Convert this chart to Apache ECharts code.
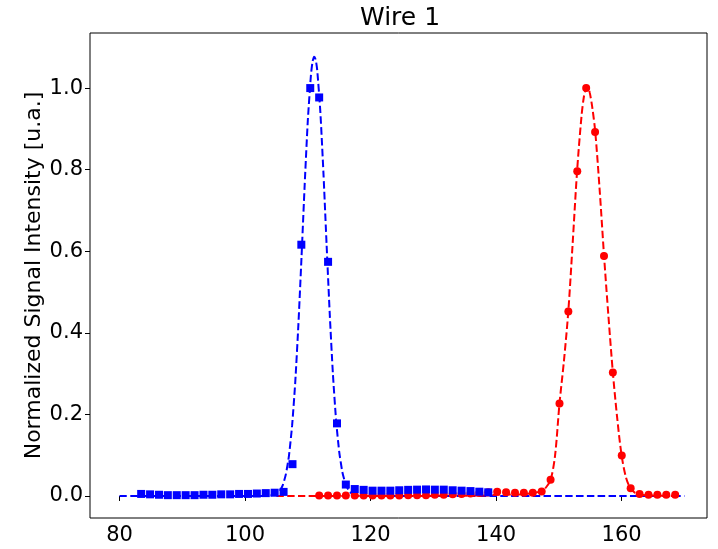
<!DOCTYPE html>
<html>
<head>
<meta charset="utf-8">
<title>Wire 1</title>
<script src="https://cdn.jsdelivr.net/npm/echarts@6/dist/echarts.min.js"></script>
<style>
  html, body { margin: 0; padding: 0; background: #fff; }
  #chart { width: 718px; height: 549px; }
</style>
</head>
<body>
<div id="chart"></div>
<script>
// Measured signal, wire 1 — first scan (blue squares)
const scanAX = [83.45, 84.87, 86.29, 87.70, 89.12, 90.54, 91.96, 93.38, 94.79, 96.21,
  97.63, 99.05, 100.47, 101.88, 103.30, 104.72, 106.14, 107.56, 108.97, 110.39,
  111.81, 113.23, 114.65, 116.06, 117.48, 118.90, 120.32, 121.74, 123.15, 124.57,
  125.99, 127.41, 128.83, 130.24, 131.66, 133.08, 134.50, 135.92, 137.33, 138.75];
const scanAY = [0.005, 0.004, 0.003, 0.002, 0.002, 0.002, 0.002, 0.003, 0.003, 0.004,
  0.004, 0.005, 0.005, 0.006, 0.007, 0.008, 0.010, 0.078, 0.616, 1.000,
  0.977, 0.574, 0.178, 0.028, 0.017, 0.015, 0.013, 0.013, 0.013, 0.014,
  0.015, 0.0155, 0.016, 0.0155, 0.0155, 0.014, 0.013, 0.012, 0.0105, 0.009];

// Measured signal, wire 1 — second scan (red circles)
const scanBX = [111.81, 113.23, 114.65, 116.06, 117.48, 118.90, 120.32, 121.74, 123.15, 124.57,
  125.99, 127.41, 128.83, 130.24, 131.66, 133.08, 134.50, 135.92, 137.33, 138.75,
  140.17, 141.59, 143.01, 144.42, 145.84, 147.26, 148.68, 150.10, 151.51, 152.93,
  154.35, 155.77, 157.19, 158.60, 160.02, 161.44, 162.86, 164.28, 165.69, 167.11, 168.53];
const scanBY = [0.001, 0.001, 0.001, 0.001, 0.001, 0.001, 0.001, 0.001, 0.001, 0.001,
  0.002, 0.002, 0.002, 0.003, 0.003, 0.004, 0.005, 0.006, 0.007, 0.009,
  0.0105, 0.009, 0.008, 0.008, 0.008, 0.011, 0.040, 0.227, 0.452, 0.796,
  1.000, 0.892, 0.588, 0.303, 0.099, 0.019, 0.005, 0.003, 0.003, 0.003, 0.003];

// Fitted profile for the first scan (blue dashed)
const fitAX = [80, 103, 104, 105, 105.5, 106, 106.5, 107, 107.5, 108, 108.5, 109, 109.5, 110,
  110.5, 110.75, 111, 111.25, 111.5, 112, 112.5, 113, 113.5, 114, 114.5, 115, 115.5, 116,
  116.5, 117, 118, 119, 170];
const fitAY = [0, 0, 0.001, 0.005, 0.012, 0.026, 0.053, 0.099, 0.173, 0.279, 0.420, 0.586, 0.762, 0.920,
  1.032, 1.064, 1.077, 1.070, 1.044, 0.941, 0.789, 0.614, 0.445, 0.299, 0.187, 0.109, 0.059, 0.030,
  0.014, 0.006, 0.001, 0, 0];

// Fitted profile for the second scan (red dashed)
const fitBX = [105, 120, 138, 140, 144, 146, 147.3, 148, 148.7, 149.4, 150.1, 150.8, 151.5, 152.2,
  152.9, 153.6, 154.0, 154.35, 154.6, 154.9, 155.3, 155.8, 156.5, 157.2, 157.9, 158.6, 159.3,
  160.0, 160.7, 161.4, 162.1, 163, 165, 169];
const fitBY = [0, 0, 0.001, 0.003, 0.004, 0.008, 0.012, 0.022, 0.040, 0.100, 0.227, 0.330, 0.452, 0.620,
  0.796, 0.930, 0.980, 1.000, 1.003, 0.990, 0.955, 0.892, 0.750, 0.588, 0.440, 0.303, 0.190,
  0.099, 0.045, 0.019, 0.008, 0.003, 0.001, 0];

const xTicks = [80, 100, 120, 140, 160];
const yTicks = [0.0, 0.2, 0.4, 0.6, 0.8, 1.0];

const pairs = (xs, ys) => xs.map((x, i) => [x, ys[i]]);

const FONT = 'DejaVu Sans';
const dash = [7.5, 3.3];

const chart = echarts.init(document.getElementById('chart'), null, { renderer: 'canvas' });

chart.setOption({
  backgroundColor: '#ffffff',
  animation: false,
  textStyle: { fontFamily: FONT },
  grid: {
    left: 90, right: 11, top: 33, bottom: 31,
    show: true, borderColor: '#000', borderWidth: 1,
    outerBoundsMode: 'none'
  },
  graphic: [{
    type: 'text',
    x: 400, y: 6,
    style: {
      text: 'Wire 1',
      fontFamily: FONT, fontSize: 25, fill: '#000',
      textAlign: 'center', textVerticalAlign: 'top'
    }
  }],
  xAxis: {
    type: 'value',
    min: 75.3, max: 173.6,
    axisLine: { show: false },
    splitLine: { show: false },
    axisTick: { show: true, inside: false, length: 5, customValues: xTicks,
      lineStyle: { color: '#000', width: 1 } },
    axisLabel: { customValues: xTicks, color: '#000', fontFamily: FONT, fontSize: 21, margin: 7,
      formatter: v => String(v) }
  },
  yAxis: {
    type: 'value',
    min: -0.054, max: 1.135,
    name: 'Normalized Signal Intensity [u.a.]',
    nameLocation: 'middle',
    nameGap: 45,
    nameMoveOverlap: false,
    nameTextStyle: { color: '#000', fontFamily: FONT, fontSize: 22 },
    axisLine: { show: false },
    splitLine: { show: false },
    axisTick: { show: true, inside: false, length: 5, customValues: yTicks,
      lineStyle: { color: '#000', width: 1 } },
    axisLabel: { customValues: yTicks, color: '#000', fontFamily: FONT, fontSize: 21, margin: 7,
      formatter: v => v.toFixed(1) }
  },
  series: [
    {
      name: 'fit A', type: 'line', data: pairs(fitAX, fitAY),
      showSymbol: false, smooth: 0.2, z: 2,
      lineStyle: { color: '#0000ff', width: 2, type: dash }
    },
    {
      name: 'fit B', type: 'line', data: pairs(fitBX, fitBY),
      showSymbol: false, smooth: 0.3, z: 3,
      lineStyle: { color: '#ff0000', width: 2, type: dash }
    },
    {
      name: 'scan B', type: 'scatter', data: pairs(scanBX, scanBY),
      symbol: 'circle', symbolSize: 8, z: 4,
      itemStyle: { color: '#ff0000', opacity: 1 }
    },
    {
      name: 'scan A', type: 'scatter', data: pairs(scanAX, scanAY),
      symbol: 'rect', symbolSize: 8, z: 5,
      itemStyle: { color: '#0000ff', opacity: 1 }
    }
  ]
});
</script>
</body>
</html>
